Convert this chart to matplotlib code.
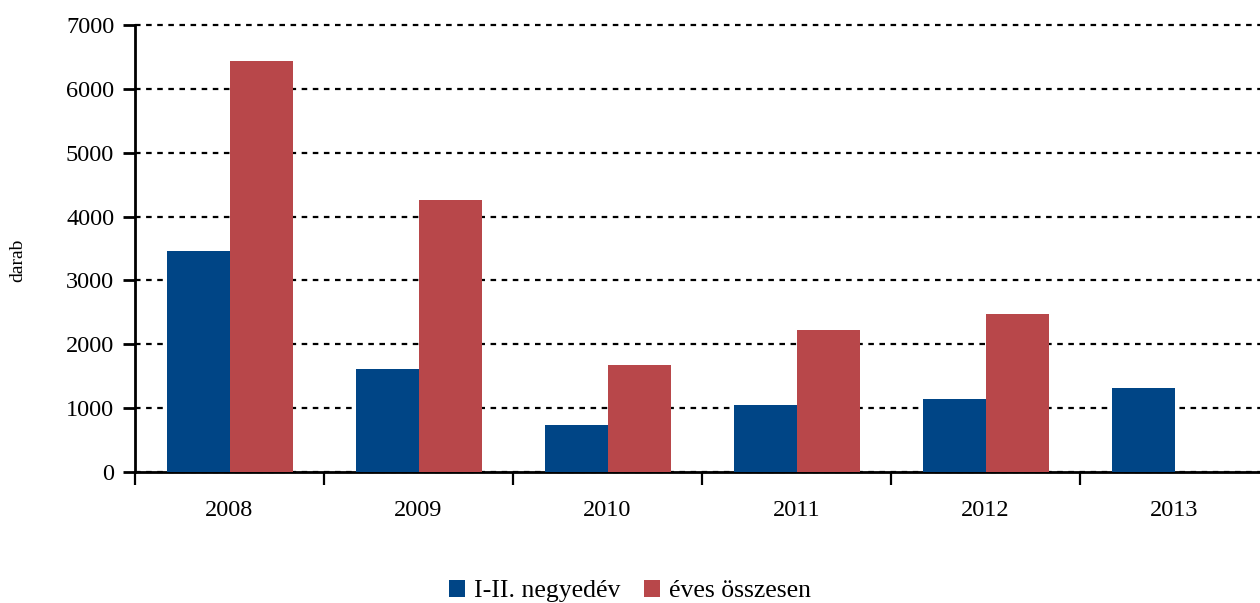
import numpy as np
import matplotlib.pyplot as plt

plt.rcParams['font.family'] = ['Liberation Serif', 'DejaVu Serif']

years = ['2008', '2009', '2010', '2011', '2012', '2013']
half_year = [3460, 1615, 735, 1050, 1145, 1315]
full_year = [6435, 4260, 1675, 2225, 2475, np.nan]
labels = ['I-II. negyedév', 'éves összesen']

blue = '#004586'
red = '#b8474a'

fig = plt.figure(figsize=(12.6, 6.03), dpi=100)
# axes span slightly past the right edge, like the original
ax = fig.add_axes([135 / 1260, 1 - 472 / 603, 1134 / 1260, 447 / 603])

x = np.arange(len(years))
w = 1 / 3
ax.bar(x - w / 2, half_year, w, color=blue, label=labels[0], zorder=3)
ax.bar(x + w / 2, full_year, w, color=red, label=labels[1], zorder=3)

ax.set_xlim(-0.5, len(years) - 0.5)
ax.set_ylim(0, 7000)
ax.set_yticks(np.arange(0, 7001, 1000))
ax.yaxis.grid(True, color='black', linestyle=(0, (2.5, 2.5)), linewidth=1.6, zorder=1)
for ln in ax.get_ygridlines():
    ln.set_clip_on(False)

ax.set_xticks(x)
ax.set_xticklabels(years, fontsize=17.5)
ax.set_xticks(np.arange(0, len(years) + 1) - 0.5, minor=True)
ax.tick_params(axis='x', which='major', length=0, pad=20)
ax.tick_params(axis='x', which='minor', length=9, width=1.6, direction='out')
ax.tick_params(axis='y', labelsize=17.5, length=9, width=2, direction='out', pad=6)

for s in ['top', 'right']:
    ax.spines[s].set_visible(False)
ax.spines['left'].set_linewidth(2)
ax.spines['bottom'].set_linewidth(2)

fig.text(18 / 1260, 1 - 260 / 603, 'darab', rotation=90, fontsize=14,
         ha='center', va='center')

fig.legend(loc='center', bbox_to_anchor=(0.5, 1 - 591 / 603), ncol=2, frameon=False,
           fontsize=18.5, handlelength=0.65, handleheight=0.65, handletextpad=0.35,
           columnspacing=0.9)

fig.savefig('out.png', dpi=100)
